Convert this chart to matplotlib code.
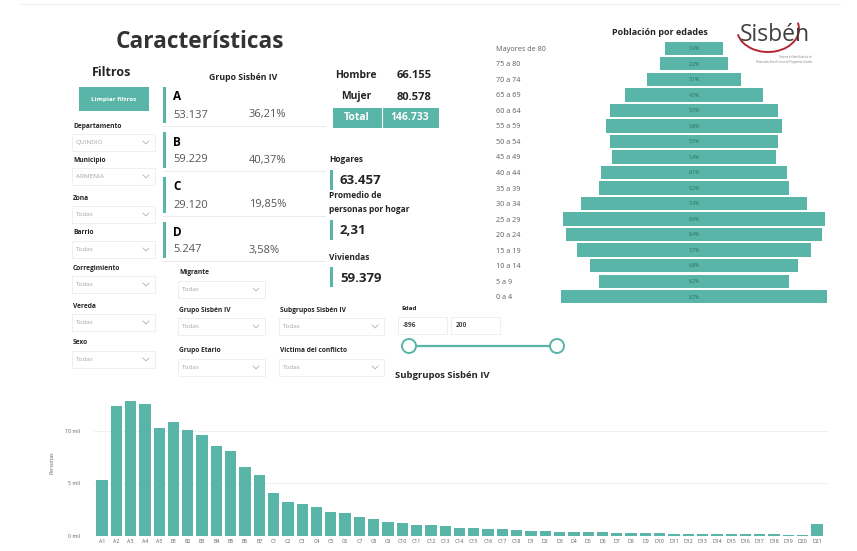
import matplotlib
matplotlib.use('Agg')
import matplotlib.pyplot as plt
from matplotlib.patches import Rectangle, Circle, Arc

plt.rcParams['font.family'] = ['Open Sans', 'DejaVu Sans']

TEAL = '#58B5A8'
DARK = '#252423'
GRAY = '#605E5C'
LIGHT = '#A6A6A6'

# Datos
age_groups = ['Mayores de 80', '75 a 80', '70 a 74', '65 a 69', '60 a 64', '55 a 59',
              '50 a 54', '45 a 49', '40 a 44', '35 a 39', '30 a 34', '25 a 29',
              '20 a 24', '15 a 19', '10 a 14', '5 a 9', '0 a 4']
age_pct = [1.9, 2.2, 3.1, 4.5, 5.5, 5.8, 5.5, 5.4, 6.1, 6.2, 7.4, 8.6, 8.4, 7.7, 6.8, 6.2, 8.7]

sub_labels = (['A%d' % i for i in range(1, 6)] + ['B%d' % i for i in range(1, 8)] +
              ['C%d' % i for i in range(1, 19)] + ['D%d' % i for i in range(1, 22)])
sub_personas = [5.3, 12.4, 12.8, 12.5, 10.25, 10.85, 10.1, 9.55, 8.55, 8.05, 6.5, 5.75,
                4.1, 3.2, 3.0, 2.7, 2.3, 2.2, 1.8, 1.62, 1.3, 1.2, 1.05, 1.0,
                0.9, 0.78, 0.74, 0.68, 0.65, 0.55,
                0.43, 0.46, 0.37, 0.33, 0.4, 0.33, 0.3, 0.27, 0.27, 0.27, 0.2, 0.2,
                0.2, 0.2, 0.17, 0.17, 0.14, 0.14, 0.1, 0.1, 1.08]

grupos = ['A', 'B', 'C', 'D']
grupo_personas = [53137, 59229, 29120, 5247]
grupo_pct = [36.21, 40.37, 19.85, 3.58]

hombre = 66155
mujer = 80578
total = 146733
hogares = 63457
promedio_hogar = 2.31
viviendas = 59379

filtros_izq = [('Departamento', 'QUINDIO'), ('Municipio', 'ARMENIA'), ('Zona', 'Todas'),
               ('Barrio', 'Todas'), ('Corregimiento', 'Todas'), ('Vereda', 'Todas'),
               ('Sexo', 'Todas')]
edad_min, edad_max = -896, 200


def miles(n):
    return '{:,}'.format(n).replace(',', '.')


def coma(x, dec=2):
    return ('{:.%df}' % dec).format(x).replace('.', ',')


def dropdown(ax, x, y, w, label, value, h=17):
    ax.text(x + 1, y - 8, label, fontsize=4.8, fontweight='bold', color=DARK, va='center')
    ax.add_patch(Rectangle((x, y), w, h, fc='white', ec='#EDEDED', lw=0.6))
    ax.text(x + 4, y + h / 2, value, fontsize=4.6, color=LIGHT, va='center')
    cx, cy = x + w - 9, y + h / 2
    ax.plot([cx - 3, cx, cx + 3], [cy - 1.5, cy + 1.5, cy - 1.5], color='#B0B0B0', lw=0.6)


fig = plt.figure(figsize=(8.57, 5.51), dpi=100)
cv = fig.add_axes([0, 0, 1, 1])
cv.set_xlim(0, 857)
cv.set_ylim(551, 0)
cv.axis('off')

cv.plot([20, 840], [4, 4], color='#F0F0F0', lw=0.8)

# Titulo y filtros
cv.text(200, 42, 'Características', fontsize=16.3, fontweight='bold', color='#333333',
        ha='center', va='center')
cv.text(112, 73, 'Filtros', fontsize=9, fontweight='bold', color=DARK, ha='center', va='center')
cv.add_patch(Rectangle((79, 87), 70, 24, fc=TEAL, ec='none'))
cv.text(114, 99, 'Limpiar filtros', fontsize=4.6, fontweight='bold', color='white',
        ha='center', va='center')

fy = [134, 168, 206, 241, 276, 314, 351]
for (lab, val), y in zip(filtros_izq, fy):
    dropdown(cv, 72, y, 83, lab, val)

# Tarjetas grupo Sisbén
cv.text(243, 77, 'Grupo Sisbén IV', fontsize=6.3, fontweight='bold', color=DARK,
        ha='center', va='center')
for i, g in enumerate(grupos):
    top = 87 + 45 * i
    cv.add_patch(Rectangle((163, top), 3.5, 36, fc=TEAL, ec='none'))
    cv.text(173, top + 10, g, fontsize=8.5, fontweight='bold', color='black', va='center')
    cv.text(173, top + 28, miles(grupo_personas[i]), fontsize=8, color='#555555', va='center')
    cv.text(249, top + 28, coma(grupo_pct[i]) + '%', fontsize=8, color='#555555', va='center')
    cv.plot([163, 325], [top + 39, top + 39], color='#EBEBEB', lw=0.7)

# Hombre / Mujer / Total
cv.text(356, 76, 'Hombre', fontsize=7.5, fontweight='bold', color=DARK, ha='center', va='center')
cv.text(414, 76, miles(hombre), fontsize=8, fontweight='bold', color=DARK, ha='center', va='center')
cv.text(356, 97, 'Mujer', fontsize=7.5, fontweight='bold', color=DARK, ha='center', va='center')
cv.text(414, 97, miles(mujer), fontsize=8, fontweight='bold', color=DARK, ha='center', va='center')
cv.add_patch(Rectangle((333, 108), 106, 20, fc=TEAL, ec='none'))
cv.plot([382, 382], [108, 128], color='white', lw=0.8)
cv.text(357, 118, 'Total', fontsize=7.5, fontweight='bold', color='white', ha='center', va='center')
cv.text(410, 118, miles(total), fontsize=7.5, fontweight='bold', color='white', ha='center', va='center')

# KPIs
kpis = [(['Hogares'], miles(hogares), 160), (['Promedio de', 'personas por hogar'],
        coma(promedio_hogar), 196), (['Viviendas'], miles(viviendas), 257)]
for lines, val, y in kpis:
    for j, ln in enumerate(lines):
        cv.text(329, y + 14 * j, ln, fontsize=6, fontweight='bold', color=DARK, va='center')
    vy = y + 14 * (len(lines) - 1) + 20
    cv.add_patch(Rectangle((330, vy - 10), 3, 20, fc=TEAL, ec='none'))
    cv.text(340, vy + 1, val, fontsize=9.5, fontweight='bold', color=DARK, va='center')

# Filtros inferiores
dropdown(cv, 178, 281, 87, 'Migrante', 'Todas')
dropdown(cv, 178, 318, 87, 'Grupo Sisbén IV', 'Todas')
dropdown(cv, 279, 318, 105, 'Subgrupos Sisbén IV', 'Todas')
dropdown(cv, 178, 359, 87, 'Grupo Etario', 'Todas')
dropdown(cv, 279, 359, 105, 'Victima del conflicto', 'Todas')

# Edad
cv.text(401, 308, 'Edad', fontsize=4.6, fontweight='bold', color=DARK, va='center')
cv.add_patch(Rectangle((398, 317), 49, 17, fc='white', ec='#EDEDED', lw=0.6))
cv.add_patch(Rectangle((451, 317), 49, 17, fc='white', ec='#EDEDED', lw=0.6))
cv.text(403, 325.5, str(edad_min), fontsize=4.8, fontweight='bold', color='#444444', va='center')
cv.text(456, 325.5, str(edad_max), fontsize=4.8, fontweight='bold', color='#444444', va='center')
cv.plot([409, 557], [346, 346], color=TEAL, lw=1.6, zorder=2)
for cx in (409, 557):
    cv.add_patch(Circle((cx, 346), 7, fc='white', ec=TEAL, lw=1.4, zorder=3))
cv.text(395, 375, 'Subgrupos Sisbén IV', fontsize=6.8, fontweight='bold', color=DARK, va='center')

# Logo
cv.text(775, 35, 'Sisbén', fontsize=16.5, color='#3F3F3F', ha='center', va='center')
cv.add_patch(Arc((768, 29), 62, 46, theta1=-12, theta2=170, color='#B5272D', lw=1.4))
cv.text(812, 57, 'Sistema de Identificación de', fontsize=1.8, color='#777777', ha='right', va='center')
cv.text(812, 62, 'Potenciales Beneficiarios de Programas Sociales', fontsize=1.8, color='#777777',
        ha='right', va='center')

# Piramide poblacional
W, H = 857.0, 551.0
ax_p = fig.add_axes([554 / W, (H - 304.5) / H, 280 / W, 264 / H])
ypos = list(range(len(age_groups)))
ax_p.barh(ypos, age_pct, left=[-v / 2 for v in age_pct], height=0.86, color=TEAL)
for y, v in zip(ypos, age_pct):
    ax_p.text(0, y, coma(v, 1) + '%', fontsize=3.6, color='#2F6E65', ha='center', va='center')
ax_p.set_xlim(-4.59, 4.59)
ax_p.set_ylim(len(age_groups) - 0.5, -0.5)
ax_p.set_yticks(ypos)
ax_p.set_yticklabels(age_groups, fontsize=5.2, color=GRAY)
for t in ax_p.get_yticklabels():
    t.set_ha('left')
ax_p.tick_params(axis='y', length=0, pad=42)
ax_p.set_xticks([])
for s in ax_p.spines.values():
    s.set_visible(False)
ax_p.patch.set_alpha(0)
ax_p.set_title('Población por edades', fontsize=6.5, fontweight='bold', color=DARK,
               x=0.38, y=1.0, pad=4)

# Barras subgrupos
ax_b = fig.add_axes([94 / W, (H - 535.7) / H, 734 / W, 147 / H])
xs = list(range(len(sub_labels)))
ax_b.bar(xs, sub_personas, width=0.79, color=TEAL, zorder=2)
ax_b.set_xlim(-0.56, len(sub_labels) - 0.23)
ax_b.set_ylim(0, 14)
ax_b.set_yticks([0, 5, 10])
ax_b.set_yticklabels(['0 mil', '5 mil', '10 mil'])
ax_b.set_xticks(xs)
ax_b.set_xticklabels(sub_labels)
ax_b.tick_params(axis='both', length=0, labelsize=3.8, labelcolor=GRAY)
ax_b.tick_params(axis='y', pad=10)
ax_b.tick_params(axis='x', pad=2.5)
ax_b.grid(axis='y', color='#EEEEEE', lw=0.6, zorder=0)
ax_b.set_ylabel('Personas', fontsize=3.8, color=GRAY, labelpad=8)
for s in ax_b.spines.values():
    s.set_visible(False)
ax_b.patch.set_alpha(0)

fig.savefig('out.png', dpi=100, facecolor='white')
